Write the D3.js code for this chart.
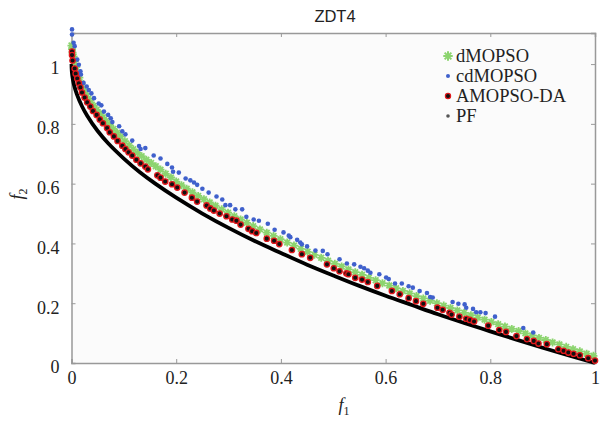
<!DOCTYPE html>
<html><head><meta charset="utf-8">
<script src="https://cdn.jsdelivr.net/npm/d3@7/dist/d3.min.js"></script>
<style>
html,body{margin:0;padding:0;background:#fff;}
text{font-family:"Liberation Serif","Times New Roman",serif;fill:#222;}
</style></head>
<body><svg id="c" width="601" height="422"></svg>
<script>
// ---------------- data ----------------
const title = "ZDT4";
const xTicks = [0, 0.2, 0.4, 0.6, 0.8, 1];
const yTicks = [0, 0.2, 0.4, 0.6, 0.8, 1];
const xTickLabels = ["0", "0.2", "0.4", "0.6", "0.8", "1"];
const yTickLabels = ["0", "0.2", "0.4", "0.6", "0.8", "1"];
const seriesNames = ["dMOPSO", "cdMOPSO", "AMOPSO-DA", "PF"];

const pfF1 = [0, 0.0002, 0.001, 0.002, 0.003, 0.005, 0.01, 0.02, 0.03, 0.05, 0.07, 0.1, 0.13, 0.16, 0.2, 0.25, 0.3, 0.35, 0.4, 0.45, 0.5, 0.55, 0.6, 0.65, 0.7, 0.75, 0.8, 0.85, 0.9, 0.95, 1.0];
const pfF2 = [1, 0.986, 0.968, 0.955, 0.945, 0.929, 0.900, 0.859, 0.827, 0.776, 0.735, 0.684, 0.639, 0.600, 0.553, 0.500, 0.452, 0.408, 0.368, 0.329, 0.293, 0.258, 0.225, 0.194, 0.163, 0.134, 0.106, 0.078, 0.051, 0.025, 0];

const amopsoF1 = [0.001,0.001,0.002,0.006,0.008,0.011,0.014,0.017,0.020,0.025,0.030,0.036,0.041,0.048,0.054,0.060,0.068,0.073,0.081,0.088,0.097,0.103,0.109,0.116,0.124,0.132,0.141,0.146,0.164,0.170,
 0.179,0.192,0.202,0.216,0.230,0.240,0.258,0.265,0.272,0.283,0.296,0.307,0.315,0.323,0.338,0.345,0.353,0.373,0.387,0.397,
 0.421,0.440,0.456,0.488,0.501,0.512,0.525,0.529,0.542,0.555,0.566,0.584,0.612,0.627,
 0.644,0.658,0.672,0.699,0.709,0.722,0.726,0.741,0.754,0.761,0.769,0.796,0.817,
 0.830,0.850,0.870,0.883,0.892,0.908,0.930,0.940,0.949,0.959,0.971,0.987,1.000];
const amopsoF2 = [1.042,1.030,1.012,0.985,0.968,0.952,0.936,0.922,0.905,0.888,0.872,0.858,0.843,0.830,0.815,0.802,0.786,0.772,0.758,0.743,0.727,0.716,0.705,0.694,0.680,0.668,0.657,0.648,0.628,0.620,
 0.607,0.598,0.587,0.570,0.553,0.540,0.527,0.517,0.510,0.500,0.491,0.480,0.476,0.463,0.449,0.441,0.435,0.416,0.409,0.398,
 0.378,0.364,0.352,0.330,0.317,0.307,0.300,0.297,0.285,0.279,0.271,0.258,0.241,0.230,
 0.217,0.207,0.198,0.185,0.178,0.168,0.162,0.155,0.148,0.144,0.139,0.125,0.110,
 0.104,0.090,0.080,0.074,0.065,0.063,0.046,0.041,0.035,0.031,0.026,0.016,0.008];

const dmopsoF1 = [0.000,0.001,0.002,0.004,0.006,0.009,0.012,0.015,0.019,0.023,0.027,0.032,0.037,0.042,0.048,0.054,0.060,0.066,0.073,0.080,0.087,0.094,0.102,0.110,0.118,0.126,0.134,0.143,0.152,0.161,0.170,0.180,0.190,0.200,
 0.210,0.220,0.231,0.242,0.253,0.264,0.275,0.287,0.299,0.311,0.323,0.335,0.347,0.360,0.373,0.386,0.399,0.412,0.425,0.438,0.451,0.464,0.477,0.490,0.503,0.516,0.529,0.542,0.555,0.568,0.581,0.594,0.607,0.620,0.633,0.646,0.659,0.672,0.685,0.698,0.711,0.724,0.737,0.750,0.763,0.776,0.789,0.802,0.815,0.828,0.841,0.854,0.867,0.880,0.893,0.906,0.919,0.932,0.945,0.958,0.971,0.984,0.997];
const dmopsoF2 = [1.062,1.050,1.038,1.025,1.010,0.990,0.972,0.955,0.935,0.915,0.900,0.885,0.872,0.860,0.847,0.835,0.822,0.810,0.797,0.783,0.770,0.757,0.742,0.728,0.715,0.703,0.692,0.680,0.669,0.658,0.647,0.633,0.621,0.607,
 0.595,0.583,0.571,0.559,0.548,0.537,0.526,0.514,0.503,0.491,0.480,0.469,0.458,0.447,0.436,0.425,0.414,0.403,0.393,0.382,0.372,0.362,0.352,0.342,0.332,0.323,0.313,0.304,0.295,0.285,0.277,0.267,0.259,0.250,0.241,0.233,0.224,0.216,0.208,0.200,0.192,0.184,0.176,0.168,0.160,0.152,0.145,0.137,0.130,0.122,0.114,0.107,0.099,0.092,0.084,0.077,0.069,0.062,0.054,0.046,0.039,0.031,0.024];

const cdmopsoF1 = [0.001,0.001,0.004,0.006,0.011,0.014,0.017,0.018,0.023,0.029,0.033,0.038,0.043,0.052,0.057,0.062,0.070,0.075,0.078,0.091,0.097,0.103,0.116,0.129,0.132,0.141,0.157,0.170,
 0.183,0.192,0.194,0.205,0.218,0.227,0.234,0.240,0.250,0.262,0.277,0.288,0.294,0.303,0.313,0.326,0.334,0.348,0.358,0.375,0.388,
 0.405,0.415,0.418,0.431,0.437,0.440,0.450,0.466,0.480,0.489,0.512,0.526,0.540,0.552,0.559,0.566,0.571,0.588,0.601,0.606,0.618,0.631,0.644,
 0.652,0.665,0.679,0.685,0.690,0.728,0.739,0.751,0.754,0.767,0.773,0.781,0.791,0.809,0.863,0.882];
const cdmopsoF2 = [1.116,1.099,1.071,1.060,1.015,0.998,0.976,0.965,0.937,0.925,0.913,0.902,0.886,0.868,0.862,0.841,0.830,0.819,0.806,0.792,0.775,0.765,0.744,0.726,0.716,0.719,0.694,0.684,
 0.666,0.654,0.640,0.637,0.617,0.611,0.604,0.596,0.583,0.570,0.557,0.547,0.528,0.528,0.514,0.514,0.489,0.480,0.476,0.466,0.446,
 0.437,0.426,0.421,0.412,0.403,0.397,0.390,0.376,0.375,0.364,0.347,0.333,0.330,0.322,0.317,0.309,0.302,0.297,0.286,0.281,0.266,0.266,0.257,
 0.252,0.241,0.234,0.221,0.219,0.204,0.198,0.196,0.185,0.181,0.170,0.170,0.167,0.155,0.117,0.102];

// ---------------- chart ----------------
const svg = d3.select("#c");
const L = 71.5, R = 595, T = 33, B = 363;
const x = d3.scaleLinear().domain([0, 1]).range([L, R]);
const y = d3.scaleLinear().domain([0, 1.104]).range([B, T]);
const axisCol = "#999";

svg.append("rect").attr("x", L).attr("y", T).attr("width", R - L).attr("height", B - T).attr("fill", "#fbfbfb");

// title
svg.append("text").attr("x", 335).attr("y", 22).attr("text-anchor", "middle")
  .style("font-family", "'Liberation Sans', Arial, sans-serif").style("font-size", "16.5px").text(title);

// axes
const gx = svg.append("g").attr("transform", `translate(0,${B})`)
  .call(d3.axisBottom(x).tickValues(xTicks).tickSize(-4).tickPadding(8).tickFormat((d, i) => xTickLabels[i]));
const gxt = svg.append("g").attr("transform", `translate(0,${T})`)
  .call(d3.axisTop(x).tickValues(xTicks).tickSize(-4).tickFormat(""));
const gy = svg.append("g").attr("transform", `translate(${L},0)`)
  .call(d3.axisLeft(y).tickValues(yTicks).tickSize(-4).tickPadding(12).tickFormat((d, i) => yTickLabels[i]));
const gyr = svg.append("g").attr("transform", `translate(${R},0)`)
  .call(d3.axisRight(y).tickValues(yTicks).tickSize(-4).tickFormat(""));
[gx, gxt, gy, gyr].forEach(g => {
  g.select(".domain").attr("stroke", axisCol).attr("stroke-width", 1.5);
  g.selectAll(".tick line").attr("stroke", axisCol).attr("stroke-width", 1);
  g.selectAll(".tick text").style("font-family", "'Liberation Serif','Times New Roman',serif").style("font-size", "18px").attr("fill", "#222");
});
gy.selectAll(".tick text").attr("dy", "0.55em");

// axis titles
const xl = svg.append("text").attr("x", 344).attr("y", 411).attr("text-anchor", "middle").style("font-size", "18px");
xl.append("tspan").style("font-style", "italic").text("f");
xl.append("tspan").attr("dy", 4).style("font-size", "12px").text("1");
const yl = svg.append("text").attr("transform", "translate(23,194) rotate(-90)").attr("text-anchor", "middle").style("font-size", "18px");
yl.append("tspan").style("font-style", "italic").text("f");
yl.append("tspan").attr("dy", 4).style("font-size", "12px").text("2");

// asterisk symbol
const aster = {draw(ctx, size) {
  const r = Math.sqrt(size) / 2;
  for (let k = 0; k < 4; k++) {
    const a = k * Math.PI / 4;
    ctx.moveTo(-r * Math.cos(a), -r * Math.sin(a));
    ctx.lineTo(r * Math.cos(a), r * Math.sin(a));
  }
}};
const asterPath = d3.symbol().type(aster).size(64)();
const asterLeg = d3.symbol().type(aster).size(90)();

// PF line
const pf = pfF1.map((v, i) => [v, pfF2[i]]);
svg.append("path").datum(pf)
  .attr("d", d3.line().x(d => x(d[0])).y(d => y(d[1])).curve(d3.curveMonotoneY))
  .attr("fill", "none").attr("stroke", "#000").attr("stroke-width", 3.8);

// dMOPSO
const dm = dmopsoF1.map((v, i) => [v, dmopsoF2[i]]);
svg.append("g").selectAll("path").data(dm).join("path")
  .attr("transform", d => `translate(${x(d[0])},${y(d[1])})`)
  .attr("d", asterPath).attr("stroke", "#8cd46f").attr("stroke-width", 1.8).attr("fill", "none");

// cdMOPSO
const cd = cdmopsoF1.map((v, i) => [v, cdmopsoF2[i]]);
svg.append("g").selectAll("circle").data(cd).join("circle")
  .attr("cx", d => x(d[0])).attr("cy", d => y(d[1])).attr("r", 2.3).attr("fill", "#3f60cc");

// AMOPSO-DA
const am = amopsoF1.map((v, i) => [v, amopsoF2[i]]);
svg.append("g").selectAll("circle").data(am).join("circle")
  .attr("cx", d => x(d[0])).attr("cy", d => y(d[1])).attr("r", 2.7)
  .attr("fill", "#111").attr("stroke", "#e0181c").attr("stroke-width", 1.3);

// legend
const lg = svg.append("g");
const lx = 448, ly0 = 62, ldy = 20;
seriesNames.forEach((n, i) => {
  const yy = ly0 + i * ldy;
  lg.append("text").attr("x", lx + 8).attr("y", yy).style("font-size", "18.5px").text(n);
  const cy = yy - 6;
  if (i === 0) lg.append("path").attr("transform", `translate(${lx},${cy})`).attr("d", asterLeg)
    .attr("stroke", "#8cd46f").attr("stroke-width", 2).attr("fill", "none");
  if (i === 1) lg.append("circle").attr("cx", lx).attr("cy", cy).attr("r", 2).attr("fill", "#3f60cc");
  if (i === 2) lg.append("circle").attr("cx", lx).attr("cy", cy).attr("r", 2.6).attr("fill", "#111").attr("stroke", "#e0181c").attr("stroke-width", 1.2);
  if (i === 3) lg.append("circle").attr("cx", lx).attr("cy", cy).attr("r", 1.8).attr("fill", "#555");
});
</script></body></html>
